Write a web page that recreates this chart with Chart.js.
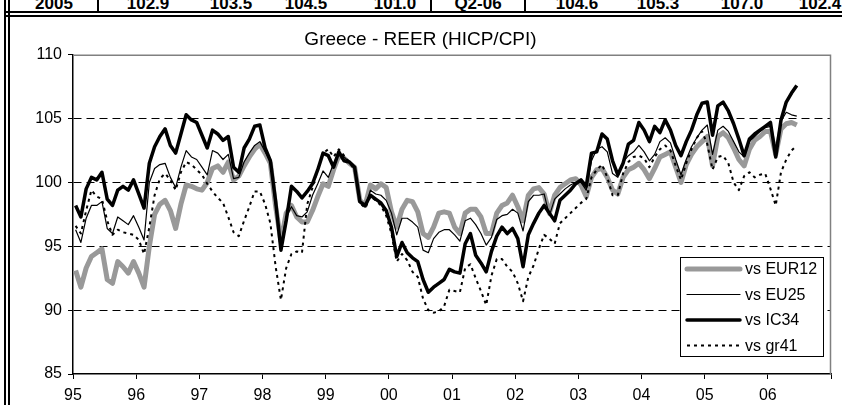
<!DOCTYPE html>
<html>
<head>
<meta charset="utf-8">
<script src="https://cdn.jsdelivr.net/npm/chart.js@4.4.1/dist/chart.umd.min.js"></script>
<style>
  html, body { margin: 0; padding: 0; background: #fff; }
  body { width: 842px; height: 405px; position: relative; overflow: hidden; font-family: "Liberation Sans", Arial, sans-serif; }
  .vline { position: absolute; top: 0; bottom: 0; width: 2px; background: #000; }
  .hline { position: absolute; left: 4px; right: 0; height: 2px; background: #000; }
  .cell { position: absolute; top: -6px; font: bold 17px "Liberation Sans", Arial, sans-serif; transform: translateX(-50%); white-space: nowrap; }
  .sep { position: absolute; top: 0; height: 12px; width: 2px; background: #000; }
  #wrap { position: absolute; left: 10px; top: 17px; width: 832px; height: 388px; }
</style>
</head>
<body>
<div class="vline" style="left:4px"></div>
<div class="vline" style="left:8px"></div>
<div class="hline" style="top:11px"></div>
<div class="hline" style="top:15px"></div>
<div id="toprow"></div>
<div id="wrap"><canvas id="reerChart" width="832" height="388"></canvas></div>
<script>
// summary row above the chart (cut off in the original)
const summaryCells = ['2005', '102.9', '103.5', '104.5', '101.0', 'Q2-06', '104.6', '105.3', '107.0', '102.4'];
const summaryX = [54, 148, 231, 306, 395, 478, 577, 658, 742, 820];
const summarySeps = [97, 430, 524];

// monthly data, Jan 1995 .. Jun 2006
const yearLabels = ['95', '96', '97', '98', '99', '00', '01', '02', '03', '04', '05', '06'];
const seriesNames = ['vs EUR12', 'vs EU25', 'vs IC34', 'vs gr41'];

const eur12 = [
  93.1, 91.8, 93.3, 94.2, 94.5, 94.8, 92.4, 92.1, 93.8, 93.4, 92.9, 93.8,
  92.9, 91.8, 95.0, 97.5, 98.3, 98.6, 97.8, 96.4, 98.3, 99.8, 99.7, 99.5,
  99.4, 100.0, 101.1, 101.3, 100.8, 101.6, 100.2, 100.5, 101.3, 102.0, 102.6, 103.0,
  102.3, 101.5, 98.1, 95.4, 97.6, 98.2, 97.3, 96.9, 96.9, 97.8, 98.9, 99.9,
  99.7, 101.0, 102.1, 101.9, 101.5, 101.2, 98.6, 98.2, 99.8, 99.5, 99.9, 99.6,
  97.7, 96.5, 97.9, 98.6, 98.5, 97.7, 96.0, 95.7, 96.5, 97.6, 97.7, 97.6,
  96.5, 96.0, 97.6, 97.9, 97.9, 97.3, 96.0, 96.0, 97.6, 98.2, 98.4, 99.0,
  98.1, 97.0, 99.0, 99.5, 99.6, 99.1, 97.6, 99.0, 99.6, 99.9, 100.2, 100.3,
  99.8, 98.9, 100.4, 101.0, 101.1, 100.4, 99.4, 99.1, 100.4, 101.0, 101.2, 101.5,
  101.0, 100.3, 101.1, 102.0, 102.2, 102.4, 101.2, 100.0, 101.4, 102.2, 102.8, 103.2,
  103.6, 101.3, 103.6, 103.9, 103.5, 102.7, 101.8, 101.3, 102.6, 103.3, 103.6, 104.0,
  104.0, 102.2, 104.2, 104.6, 104.7, 104.5
];
const eu25 = [
  96.3, 95.3, 97.2, 98.2, 98.2, 98.5, 96.4, 96.0, 97.3, 97.0, 96.7, 97.4,
  96.5, 95.5, 100.0, 101.1, 101.4, 101.5, 100.4, 99.6, 101.2, 102.5, 102.0, 101.8,
  101.2, 100.6, 102.5, 102.3, 101.8, 102.2, 100.3, 100.4, 101.6, 102.3, 102.9, 103.2,
  102.4, 101.6, 98.1, 95.2, 97.3, 98.1, 97.4, 97.3, 97.7, 99.0, 99.9, 100.9,
  100.4, 101.5, 102.3, 102.0, 101.6, 101.3, 98.5, 98.1, 99.4, 99.1, 99.0, 98.6,
  97.6, 95.9, 97.2, 97.2, 96.9, 96.5, 94.7, 94.5, 95.6, 96.1, 96.3, 96.3,
  95.9, 95.4, 97.0, 97.2, 96.7, 96.0, 95.1, 95.7, 97.1, 97.4, 97.5, 97.9,
  97.6, 96.2, 98.5, 99.0, 99.0, 99.1, 97.4, 98.7, 99.1, 99.5, 99.8, 100.0,
  100.0, 99.4, 101.7, 102.6, 102.8, 102.4, 100.7, 100.4, 101.6, 102.1, 102.4, 102.9,
  102.4, 101.7, 102.2, 103.2, 103.5, 103.1, 101.8, 100.6, 101.8, 102.8, 103.5, 104.1,
  104.5, 102.2, 104.1, 104.4, 104.0, 103.2, 102.4, 102.0, 103.2, 103.6, 104.0, 104.3,
  104.4, 102.6, 104.8, 105.5, 105.3, 105.2
];
const ic34 = [
  98.2, 97.3, 99.5, 100.4, 100.2, 100.8, 98.7, 98.2, 99.4, 99.7, 99.4, 100.2,
  99.1, 98.0, 101.5, 102.8, 103.6, 104.2, 102.9, 102.3, 103.8, 105.3, 104.9, 104.7,
  103.7, 102.7, 104.1, 103.8, 103.3, 103.6, 101.2, 100.8, 102.7, 103.4, 104.4, 104.5,
  102.7, 101.7, 98.5, 94.7, 97.0, 99.7, 99.3, 98.8, 99.3, 99.9, 101.0, 102.3,
  102.1, 101.2, 102.4, 101.7, 101.6, 101.2, 98.5, 98.2, 99.0, 98.7, 98.4, 97.8,
  96.5, 94.2, 95.3, 94.5, 94.1, 93.8, 92.4, 91.4, 91.8, 92.1, 92.4, 93.2,
  93.0, 92.9, 95.2, 96.0, 94.3, 93.7, 93.0, 94.6, 95.8, 96.5, 96.0, 96.4,
  95.6, 93.4, 95.9, 96.8, 97.6, 98.2, 97.6, 97.0, 98.6, 99.0, 99.4, 99.9,
  100.2, 99.7, 102.3, 102.4, 103.8, 103.4, 101.7, 100.6, 101.5, 103.0, 103.3, 104.7,
  104.1, 103.2, 104.4, 103.9, 104.9, 104.1, 102.9, 102.1, 103.2, 104.1, 105.3, 106.2,
  106.3, 103.7, 106.0, 106.3, 105.6, 104.6, 103.4, 102.1, 103.4, 103.8, 104.1, 104.4,
  104.7, 102.0, 104.9, 106.3, 107.0, 107.6
];
const gr41 = [
  96.6, 96.0, 97.8, 99.4, 98.9, 98.7, 97.0, 95.9, 96.3, 96.1, 96.0, 95.9,
  95.5, 94.4, 96.5, 99.0, 100.3, 100.7, 100.2, 99.4, 100.8, 101.6, 101.4, 101.0,
  100.6, 99.9, 99.3, 98.8, 98.4, 97.3, 96.1, 95.8, 97.0, 98.1, 99.3, 99.3,
  98.3, 96.8, 93.4, 90.8, 93.3, 94.4, 94.6, 94.5, 98.3, 99.6, 101.0, 102.3,
  102.6, 102.0, 102.6, 102.1, 101.6, 101.0, 98.4, 98.0, 98.9, 98.6, 98.2, 97.4,
  96.0, 93.8, 94.4, 93.9, 93.0, 92.6, 90.9, 90.0, 89.8, 89.9, 90.3, 91.6,
  91.5, 91.4, 93.3, 93.6, 92.5, 91.5, 90.4, 92.7, 94.0, 94.0, 93.4, 93.0,
  92.1, 90.7, 92.6, 93.5, 94.8, 95.9, 95.6, 95.2, 96.8, 97.2, 97.6, 98.0,
  98.4, 98.7, 100.4, 101.0, 101.4, 100.4, 99.0, 99.0, 100.7, 101.6, 102.0, 102.1,
  101.9, 101.2, 102.0, 102.6, 102.9, 102.5, 101.3, 100.2, 101.5, 102.6, 103.5, 104.0,
  103.0, 101.0, 102.0, 102.1, 101.5, 100.0, 99.4, 100.5, 100.8, 100.4, 100.6, 100.7,
  99.5, 98.2, 100.8, 101.8, 102.5, 102.9
];

// top row
const row = document.getElementById('toprow');
summaryCells.forEach((txt, k) => {
  const s = document.createElement('span');
  s.className = 'cell';
  s.style.left = summaryX[k] + 'px';
  s.textContent = txt;
  row.appendChild(s);
});
summarySeps.forEach(x => {
  const d = document.createElement('div');
  d.className = 'sep';
  d.style.left = x + 'px';
  row.appendChild(d);
});

const toPoints = arr => arr.map((v, i) => ({ x: i + 0.5, y: v }));
const fontFamily = '"Liberation Sans", Arial, sans-serif';

const plotFrame = {
  id: 'plotFrame',
  beforeDatasetsDraw(chart) {
    const { ctx, chartArea: a } = chart;
    ctx.save();
    ctx.strokeStyle = '#808080';
    ctx.lineWidth = 1.5;
    ctx.beginPath();
    ctx.moveTo(a.left, a.top + 0.5);
    ctx.lineTo(a.right - 0.5, a.top + 0.5);
    ctx.lineTo(a.right - 0.5, a.bottom);
    ctx.stroke();
    ctx.restore();
  }
};

// legend box inside the plot, bottom right
const boxLegend = {
  id: 'boxLegend',
  afterDraw(chart) {
    const { ctx, chartArea: a } = chart;
    const w = 143, h = 99;
    const x = Math.round(a.right - 8 - w);
    const y = Math.round(a.bottom - 18 - h);
    ctx.save();
    ctx.fillStyle = '#fff';
    ctx.fillRect(x, y, w, h);
    ctx.strokeStyle = '#000';
    ctx.lineWidth = 1;
    ctx.strokeRect(x + 0.5, y + 0.5, w, h);
    ctx.font = '16px ' + fontFamily;
    ctx.textBaseline = 'middle';
    chart.data.datasets.forEach((ds, k) => {
      const ly = y + 12 + k * 25.5;
      ctx.beginPath();
      ctx.setLineDash(ds.borderDash || []);
      ctx.lineCap = ds.borderDash ? 'butt' : 'round';
      ctx.strokeStyle = ds.borderColor;
      ctx.lineWidth = ds.borderWidth;
      ctx.moveTo(x + 7, ly);
      ctx.lineTo(x + 60, ly);
      ctx.stroke();
      ctx.setLineDash([]);
      ctx.fillStyle = '#000';
      ctx.fillText(ds.label, x + 65, ly + 1);
    });
    ctx.restore();
  }
};

new Chart(document.getElementById('reerChart').getContext('2d'), {
  type: 'line',
  data: {
    datasets: [
      { label: seriesNames[0], data: toPoints(eur12), borderColor: '#999999', borderWidth: 5, order: 4 },
      { label: seriesNames[1], data: toPoints(eu25), borderColor: '#000000', borderWidth: 1.2, order: 3 },
      { label: seriesNames[2], data: toPoints(ic34), borderColor: '#000000', borderWidth: 3.5, order: 2 },
      { label: seriesNames[3], data: toPoints(gr41), borderColor: '#000000', borderWidth: 2, borderDash: [3, 4], order: 1 }
    ]
  },
  options: {
    responsive: false,
    animation: false,
    layout: { padding: { left: 0, right: 11, top: 0, bottom: 0 } },
    elements: {
      point: { radius: 0 },
      line: { tension: 0, borderJoinStyle: 'round', fill: false }
    },
    plugins: {
      legend: { display: false },
      tooltip: { enabled: false },
      title: {
        display: true,
        text: 'Greece - REER (HICP/CPI)',
        color: '#000',
        font: { family: fontFamily, size: 19, weight: 'normal' },
        padding: { top: 11, bottom: 4 }
      }
    },
    scales: {
      x: {
        type: 'linear',
        min: 0,
        max: 144,
        afterFit: s => { s.height = 31; },
        afterBuildTicks: s => { s.ticks = yearLabels.map((_, k) => ({ value: k * 12 })).concat([{ value: 144 }]); },
        ticks: {
          autoSkip: false,
          maxRotation: 0,
          padding: 7,
          color: '#000',
          font: { family: fontFamily, size: 16 },
          callback: v => yearLabels[v / 12] ?? ''
        },
        grid: { drawOnChartArea: false, drawTicks: true, tickLength: 5, tickColor: '#000' },
        border: { color: '#000', width: 1.5 }
      },
      y: {
        min: 85,
        max: 110,
        afterFit: s => { s.width = 63; },
        ticks: {
          stepSize: 5,
          padding: 6,
          color: '#000',
          font: { family: fontFamily, size: 16 }
        },
        grid: {
          color: c => (c.tick && (c.tick.value === 85 || c.tick.value === 110)) ? 'rgba(0,0,0,0)' : '#000',
          tickColor: '#000',
          tickLength: 5,
          lineWidth: 1
        },
        border: { color: '#000', width: 1.5, dash: [8, 5] }
      }
    }
  },
  plugins: [plotFrame, boxLegend]
});
</script>
</body>
</html>
